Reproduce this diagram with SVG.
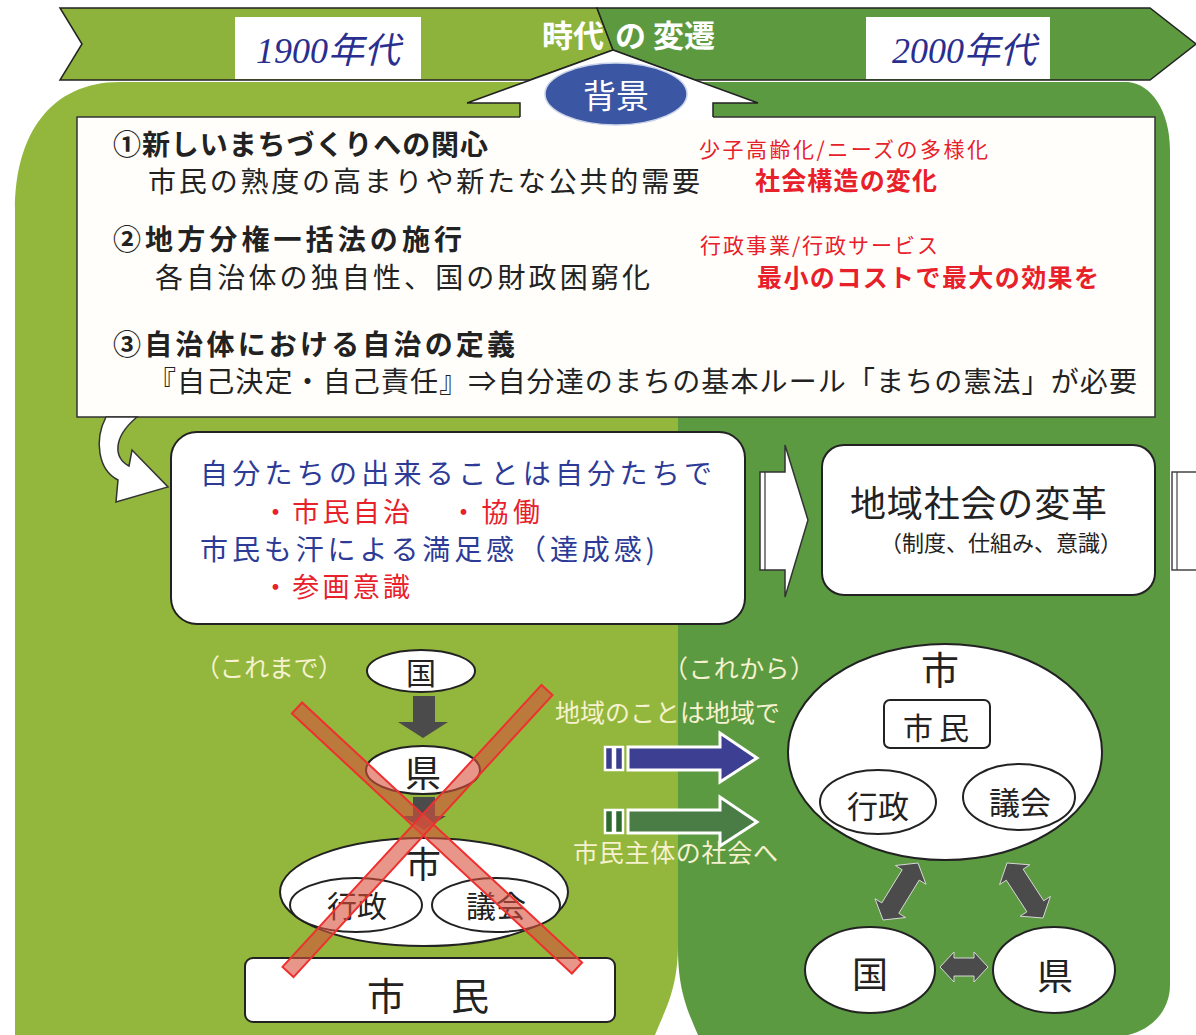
<svg xmlns="http://www.w3.org/2000/svg" width="1196" height="1035" viewBox="0 0 1196 1035">
<style>
text { font-family: "Noto Sans CJK JP", "Noto Sans", sans-serif; }
.ser { font-family: "Liberation Serif", "Noto Sans CJK JP", serif; }
.node { fill: #ffffff; stroke: #222222; stroke-width: 2; }
.blk { fill: #222222; }
.red { fill: #e8202a; }
.blue { fill: #2d3b97; }
.cream { fill: #f6f1cf; }
.bold { font-weight: bold; }
.dk { fill: #4b4b4b; stroke: #d8d8d8; stroke-width: 1; }
.cross { fill: #d8503c; fill-opacity: 0.6; stroke: #ee3030; stroke-width: 2; }
</style>
<rect width="1196" height="1035" fill="#ffffff"/>

<g id="panels">
  <path d="M15,1035 V210 C15,135 50,82 120,82 H678 V945 C678,990 664,1012 655,1035 Z" fill="#92b73c"/>
  <path d="M678,82 H1128 C1152,84 1170,112 1170,150 V985 C1170,1012 1150,1030 1128,1035 H698 C688,1012 678,990 678,950 Z" fill="#5b9a40"/>
</g>

<g id="banner">
  <polygon points="60,8 597,8 613,50 530,80 60,80 82,44" fill="#8db33c" stroke="#222" stroke-width="1.5"/>
  <polygon points="597,8 1150,8 1196,44 1150,80 695,80 613,50" fill="#5d9a3f" stroke="#222" stroke-width="1.5"/>
  <rect x="235" y="17" width="186" height="62" fill="#ffffff"/>
  <text x="328" y="63" text-anchor="middle" class="ser" font-size="36" font-style="italic" fill="#2a2f8f">1900年代</text>
  <rect x="866" y="17" width="184" height="62" fill="#ffffff"/>
  <text x="964" y="63" text-anchor="middle" class="ser" font-size="36" font-style="italic" fill="#2a2f8f">2000年代</text>
  <text y="47" font-size="31" class="bold" fill="#ffffff"><tspan x="542">時代</tspan><tspan x="615">の</tspan><tspan x="653">変遷</tspan></text>
</g>

<g id="background-box">
  <rect x="77" y="117" width="1078" height="300" fill="#fffefa" stroke="#333" stroke-width="1.5"/>
  <text x="113" y="155" font-size="28" class="bold blk" textLength="375" lengthAdjust="spacing">①新しいまちづくりへの関心</text>
  <text x="148" y="192" font-size="28" class="blk" textLength="552" lengthAdjust="spacing">市民の熟度の高まりや新たな公共的需要</text>
  <text x="699" y="157" font-size="21" class="red" textLength="289" lengthAdjust="spacing">少子高齢化/ニーズの多様化</text>
  <text x="755" y="190" font-size="25" class="bold red" textLength="182" lengthAdjust="spacing">社会構造の変化</text>
  <text x="113" y="250" font-size="28" class="bold blk" textLength="349" lengthAdjust="spacing">②地方分権一括法の施行</text>
  <text x="155" y="288" font-size="28" class="blk" textLength="495" lengthAdjust="spacing">各自治体の独自性、国の財政困窮化</text>
  <text x="700" y="253" font-size="21" class="red" textLength="238" lengthAdjust="spacing">行政事業/行政サービス</text>
  <text x="757" y="287" font-size="25" class="bold red" textLength="342" lengthAdjust="spacing">最小のコストで最大の効果を</text>
  <text x="113" y="355" font-size="28" class="bold blk" textLength="402" lengthAdjust="spacing">③自治体における自治の定義</text>
  <text x="148" y="392" font-size="28" class="blk" textLength="989" lengthAdjust="spacing">『自己決定・自己責任』⇒自分達のまちの基本ルール「まちの憲法」が必要</text>
</g>

<g id="haikei-arrow">
  <polygon points="613,50 758,103 713,103 713,119 520,119 520,103 467,103" fill="#ffffff"/>
  <polyline points="520,117 520,103 467,103 613,50 758,103 713,103 713,117" fill="none" stroke="#222" stroke-width="1.5"/>
  <ellipse cx="616" cy="94" rx="71" ry="31" fill="#3b56a3" stroke="#c9d2e8" stroke-width="1.5"/>
  <text x="616" y="108" text-anchor="middle" font-size="33" fill="#ffffff">背景</text>
</g>

<g id="connectors">
  <path d="M106,417 C94,440 98,470 118,480 L116,502 L168,487 L132,450 L129,466 C114,458 112,438 137,417 Z" fill="#ffffff" stroke="#333" stroke-width="1.5"/>
  <polygon points="760,472 785,472 785,445 808,520 785,597 785,570 760,570" fill="#ffffff" stroke="#333" stroke-width="1.5"/>
  <line x1="765" y1="472" x2="765" y2="570" stroke="#333" stroke-width="1.2"/>
  <polygon points="413,696 435,696 435,722 448,722 423,738 398,722 413,722" fill="#4b4b4b"/>
  <polygon points="413,797 435,797 435,816 446,816 424,830 402,816 413,816" fill="#4b4b4b"/>
  <rect x="605" y="747" width="8" height="23" fill="#3b3d8f" stroke="#ffffff" stroke-width="2.5"/>
  <rect x="615" y="747" width="8" height="23" fill="#3b3d8f" stroke="#ffffff" stroke-width="2.5"/>
  <polygon points="628,747 720,747 720,733 757,758 720,782 720,770 628,770" fill="#3d3f92" stroke="#ffffff" stroke-width="3"/>
  <rect x="605" y="810" width="8" height="23" fill="#2f6a30" stroke="#ffffff" stroke-width="2.5"/>
  <rect x="615" y="810" width="8" height="23" fill="#2f6a30" stroke="#ffffff" stroke-width="2.5"/>
  <polygon points="628,810 720,810 720,797 757,822 720,846 720,833 628,833" fill="#4a7d45" stroke="#ffffff" stroke-width="3"/>
  <polygon class="dk" points="918,863 926.0,884.3 919.2,880.1 898.8,913.3 905.6,917.5 883,920 875.0,898.7 881.8,902.9 902.2,869.7 895.4,865.5"/>
  <polygon class="dk" points="1007,863 1029.8,864.8 1023.1,869.2 1043.7,900.8 1050.4,896.4 1043,918 1020.2,916.2 1026.9,911.8 1006.3,880.2 999.6,884.6"/>
  <polygon class="dk" points="940,967 954,952 954,958 974,958 974,952 988,967 974,982 974,976 954,976 954,982"/>
  <line x1="887" y1="749" x2="874" y2="770" stroke="#222" stroke-width="1.5"/>
  <line x1="988" y1="749" x2="1003" y2="767" stroke="#222" stroke-width="1.5"/>
  <line x1="936" y1="798" x2="963" y2="798" stroke="#222" stroke-width="1.5"/>
</g>

<g id="jichi-box">
  <rect x="171" y="432" width="574" height="192" rx="26" class="node"/>
  <text x="200" y="484" font-size="28" class="blue" textLength="512" lengthAdjust="spacing">自分たちの出来ることは自分たちで</text>
  <text x="262" y="522" font-size="27" class="red" textLength="148" lengthAdjust="spacing">・市民自治</text>
  <text x="450" y="522" font-size="27" class="red" textLength="90" lengthAdjust="spacing">・協働</text>
  <text x="200" y="560" font-size="28" class="blue" textLength="455" lengthAdjust="spacing">市民も汗による満足感（達成感)</text>
  <text x="262" y="597" font-size="27" class="red" textLength="148" lengthAdjust="spacing">・参画意識</text>
</g>

<g id="henkaku-box">
  <rect x="822" y="445" width="333" height="150" rx="22" class="node"/>
  <text x="850" y="517" font-size="36" class="blk" textLength="257" lengthAdjust="spacing">地域社会の変革</text>
  <text x="880" y="551" font-size="22" class="blk" textLength="242" lengthAdjust="spacing">（制度、仕組み、意識）</text>
</g>

<g id="edge-fragment">
  <rect x="1172" y="472" width="30" height="98" fill="#ffffff" stroke="#444" stroke-width="1.5"/>
  <line x1="1177" y1="472" x2="1177" y2="570" stroke="#444" stroke-width="1.2"/>
</g>

<g id="labels">
  <text x="195" y="677" font-size="25" class="cream" textLength="148" lengthAdjust="spacing">（これまで）</text>
  <text x="663" y="678" font-size="25" class="cream" textLength="152" lengthAdjust="spacing">（これから）</text>
  <text x="555" y="722" font-size="25" class="cream" textLength="225" lengthAdjust="spacing">地域のことは地域で</text>
  <text x="573" y="862" font-size="25" class="cream" textLength="205" lengthAdjust="spacing">市民主体の社会へ</text>
</g>

<g id="old-kuni">
  <ellipse cx="421" cy="671" rx="54" ry="21" class="node"/>
  <text x="421" y="684" text-anchor="middle" font-size="30" class="blk">国</text>
</g>
<g id="old-ken">
  <ellipse cx="423" cy="770" rx="57" ry="24" class="node"/>
  <text x="423" y="787" text-anchor="middle" font-size="36" class="blk">県</text>
</g>
<g id="old-shi">
  <ellipse cx="424" cy="892" rx="144" ry="54" class="node" stroke-width="2.5"/>
  <text x="423" y="878" text-anchor="middle" font-size="36" class="blk">市</text>
</g>
<g id="old-gyosei">
  <ellipse cx="356" cy="905" rx="66" ry="27" class="node" stroke-width="1.5"/>
  <text x="357" y="917" text-anchor="middle" font-size="30" class="blk">行政</text>
</g>
<g id="old-gikai">
  <ellipse cx="496" cy="905" rx="64" ry="27" class="node" stroke-width="1.5"/>
  <text x="496" y="917" text-anchor="middle" font-size="30" class="blk">議会</text>
</g>
<g id="old-shimin">
  <rect x="245" y="958" width="370" height="64" rx="8" class="node" stroke-width="2.5"/>
  <text x="430" y="1010" text-anchor="middle" font-size="38" class="blk" letter-spacing="4">市　民</text>
</g>

<g id="cross">
  <polygon class="cross" points="291.9,713.5 571.9,973.5 582.1,962.5 302.1,702.5"/>
  <polygon class="cross" points="541.5,684.9 282.5,966.9 293.5,977.1 552.5,695.1"/>
</g>

<g id="new-shi">
  <ellipse cx="945" cy="752" rx="157" ry="108" class="node" stroke-width="2.5"/>
  <text x="940" y="684" text-anchor="middle" font-size="38" class="blk">市</text>
</g>
<g id="new-shimin">
  <rect x="884" y="700" width="106" height="48" rx="6" class="node" stroke-width="2.5"/>
  <text x="939" y="739" text-anchor="middle" font-size="30" class="blk" letter-spacing="6">市民</text>
</g>
<g id="new-gyosei">
  <ellipse cx="878" cy="802" rx="58" ry="32" class="node"/>
  <text x="878" y="818" text-anchor="middle" font-size="31" class="blk">行政</text>
</g>
<g id="new-gikai">
  <ellipse cx="1019" cy="797" rx="56" ry="33" class="node"/>
  <text x="1020" y="814" text-anchor="middle" font-size="31" class="blk">議会</text>
</g>
<g id="new-kuni">
  <ellipse cx="870" cy="970" rx="65" ry="43" class="node"/>
  <text x="870" y="988" text-anchor="middle" font-size="36" class="blk">国</text>
</g>
<g id="new-ken">
  <ellipse cx="1054" cy="970" rx="61" ry="43" class="node"/>
  <text x="1055" y="990" text-anchor="middle" font-size="36" class="blk">県</text>
</g>
</svg>
